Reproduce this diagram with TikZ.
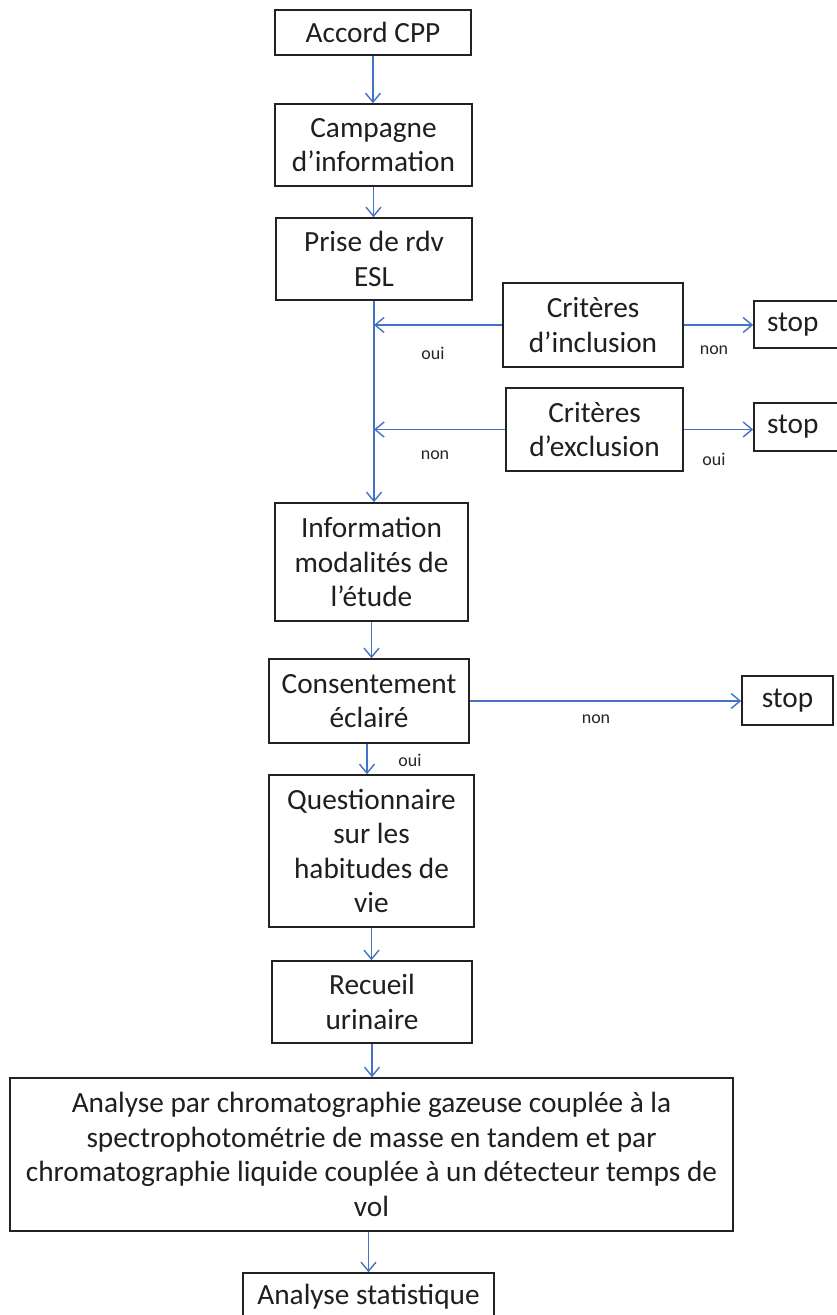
\documentclass[tikz,border=0pt]{standalone}
\usepackage{fontspec}
\setmainfont{Carlito}
\usetikzlibrary{arrows.meta}
\definecolor{arrowblue}{HTML}{4472C4}
\definecolor{boxline}{HTML}{222222}
\begin{document}
\begin{tikzpicture}[x=1pt,y=-1pt,
  box/.style={draw=boxline, line width=1.6pt, rectangle, inner sep=0pt, align=center,
              font=\fontsize{29.3}{34.5}\selectfont, text=black!88},
  stopbox/.style={box, text width=64pt, align=left},
  arr/.style={draw=arrowblue, line width=1.7pt,
              -{Straight Barb[length=9pt,width=15pt,line width=1.4pt]}},
  lbl/.style={font=\fontsize{18}{20}\selectfont, inner sep=0pt, text=black!85}]
\path[use as bounding box, clip] (0,0) rectangle (837,1315);
\fill[white] (0,0) rectangle (837,1315);

\node[box, minimum width=196pt, minimum height=45pt] (accord) at (373,32.5) {Accord CPP};
\node[box, minimum width=197pt, minimum height=82pt] (camp) at (373.5,145) {Campagne\\d’information};
\node[box, minimum width=196pt, minimum height=82pt] (prise) at (374,259) {Prise de rdv\\ESL};
\node[box, minimum width=180pt, minimum height=84pt] (incl) at (593,325) {Critères\\d’inclusion};
\node[box, minimum width=177pt, minimum height=83pt] (excl) at (594.5,429.5) {Critères\\d’exclusion};
\node[stopbox, minimum width=90pt, minimum height=47pt] (stop1) at (799,324.5) {stop};
\node[stopbox, minimum width=90pt, minimum height=48pt] (stop2) at (799,427) {stop};
\node[box, minimum width=193pt, minimum height=118pt] (info) at (371.5,562) {Information\\modalités de\\l’étude};
\node[box, minimum width=200pt, minimum height=84pt] (consent) at (369,701) {Consentement\\éclairé};
\node[box, minimum width=91pt, minimum height=49pt] (stop3) at (787.5,700.5) {stop};
\node[box, minimum width=205pt, minimum height=152pt] (quest) at (371.5,851) {Questionnaire\\sur les\\habitudes de\\vie};
\node[box, minimum width=200pt, minimum height=82pt] (recueil) at (372,1002) {Recueil\\urinaire};
\node[box, minimum width=723pt, minimum height=153pt] (big) at (371.5,1154.5)
  {Analyse par chromatographie gazeuse couplée à la\\spectrophotométrie de masse en tandem et par\\chromatographie liquide couplée à un détecteur temps de\\vol};
\node[box, minimum width=251pt, minimum height=48pt] (stat) at (368.5,1297) {Analyse statistique};

\draw[arr] (accord.south) -- (accord.south |- camp.north);
\draw[arr] (camp.south) -- (camp.south |- prise.north);
\draw[arr] (prise.south) -- (prise.south |- info.north);
\draw[arr] (incl.west) -- (incl.west -| prise.south);
\draw[arr] (incl.east) -- (incl.east -| stop1.west);
\draw[arr] (excl.west) -- (excl.west -| prise.south);
\draw[arr] (excl.east) -- (excl.east -| stop2.west);
\draw[arr] (info.south) -- (info.south |- consent.north);
\draw[arr] (consent.east) -- (consent.east -| stop3.west);
\draw[arr] ([xshift=-2pt]consent.south) -- ([xshift=-2pt]consent.south |- quest.north);
\draw[arr] (quest.south) -- (quest.south |- recueil.north);
\draw[arr] (recueil.south) -- (recueil.south |- big.north);
\draw[arr] (stat.north |- big.south) -- (stat.north);

\node[lbl] (l1) at (433,353) {oui};
\node[lbl] (l2) at (714,350) {non};
\node[lbl] (l3) at (435,455) {non};
\node[lbl] (l4) at (714,459) {oui};
\node[lbl] (l5) at (596,719) {non};
\node[lbl] (l6) at (410,760) {oui};
\end{tikzpicture}
\end{document}
